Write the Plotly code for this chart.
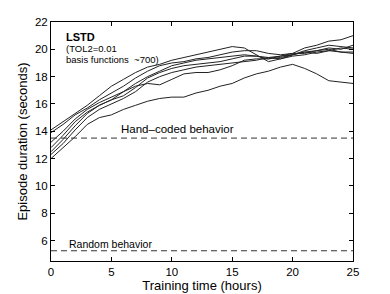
import plotly.graph_objects as go

hours = list(range(0, 26))

run_a = [14.1, 14.7, 15.3, 15.9, 16.6, 17.3, 17.8, 18.3, 18.7, 18.9, 19.2, 19.4, 19.6, 19.8, 20.0, 20.2, 20.1, 19.6, 19.1, 19.3, 19.6, 19.9, 20.1, 20.3, 20.2, 20.1]
run_b = [13.9, 14.5, 15.2, 15.7, 16.3, 16.8, 17.3, 17.9, 18.4, 18.8, 19.0, 19.1, 19.3, 19.4, 19.6, 19.8, 19.9, 19.9, 19.7, 19.6, 19.7, 19.7, 19.9, 20.0, 19.8, 19.7]
run_c = [13.2, 14.0, 14.9, 15.6, 16.1, 16.5, 16.9, 17.5, 18.0, 18.4, 18.8, 19.0, 19.2, 19.3, 19.4, 19.5, 19.6, 19.5, 19.4, 19.5, 19.7, 20.1, 20.3, 20.6, 20.7, 21.0]
run_d = [12.8, 13.7, 14.7, 15.4, 15.9, 16.3, 16.6, 17.2, 17.9, 18.3, 18.6, 18.8, 18.9, 19.0, 19.1, 19.3, 19.5, 19.5, 19.3, 19.5, 19.6, 19.8, 19.9, 20.1, 20.0, 20.3]
run_e = [12.5, 13.4, 14.4, 15.3, 15.9, 16.3, 16.9, 17.3, 17.5, 17.4, 17.8, 18.2, 18.3, 18.3, 18.5, 18.8, 19.2, 19.3, 19.3, 19.4, 19.6, 19.8, 19.7, 19.9, 20.1, 20.0]
run_f = [12.3, 13.1, 14.1, 15.0, 15.6, 16.0, 16.4, 16.9, 17.6, 18.0, 18.3, 18.5, 18.7, 18.8, 18.9, 19.0, 19.1, 19.2, 19.4, 19.3, 19.5, 19.6, 19.8, 19.9, 19.8, 19.8]
run_g = [12.0, 12.8, 13.6, 14.5, 15.0, 15.2, 15.6, 15.9, 16.2, 16.4, 16.5, 16.5, 16.8, 17.0, 17.3, 17.5, 17.9, 18.2, 18.4, 18.7, 18.9, 18.6, 18.2, 17.7, 17.6, 17.5]
runs = [run_a, run_b, run_c, run_d, run_e, run_f, run_g]

hand_coded = 13.5
random_beh = 5.25

x_ticks = [0, 5, 10, 15, 20, 25]
y_ticks = [6, 8, 10, 12, 14, 16, 18, 20, 22]

FONT = "Liberation Sans, Arial, Helvetica, sans-serif"

fig = go.Figure()
for r in runs:
    fig.add_trace(go.Scatter(x=hours, y=r, mode="lines",
                             line=dict(color="#222222", width=1), showlegend=False,
                             hoverinfo="skip"))

for lvl in [hand_coded, random_beh]:
    fig.add_trace(go.Scatter(x=[0, 25], y=[lvl, lvl], mode="lines",
                             line=dict(color="#333333", width=1, dash="6px,4px"),
                             showlegend=False, hoverinfo="skip"))

fig.add_annotation(x=1.1, y=20.92, text="<b>LSTD</b>", showarrow=False,
                   xanchor="left", yanchor="middle", font=dict(size=11, color="black", family=FONT))
fig.add_annotation(x=1.1, y=20.04, text="(TOL2=0.01", showarrow=False,
                   xanchor="left", yanchor="middle", font=dict(size=9.5, color="black", family=FONT))
fig.add_annotation(x=1.1, y=19.22, text="basis functions  ~700)", showarrow=False,
                   xanchor="left", yanchor="middle", font=dict(size=9.5, color="black", family=FONT))
fig.add_annotation(x=5.65, y=14.15, text="Hand–coded behavior", showarrow=False,
                   xanchor="left", yanchor="middle", font=dict(size=11.5, color="black", family=FONT))
fig.add_annotation(x=1.32, y=5.72, text="Random behavior", showarrow=False,
                   xanchor="left", yanchor="middle", font=dict(size=10.5, color="black", family=FONT))

axis_common = dict(showgrid=False, zeroline=False, showline=True, linecolor="black",
                   linewidth=1, mirror="ticks", ticks="inside", ticklen=4, automargin=False,
                   tickcolor="black", tickfont=dict(size=11.5, color="black", family=FONT))

fig.update_xaxes(range=[0, 25], tickvals=x_ticks, ticktext=[str(v) for v in x_ticks],
                 title=dict(text="Training time (hours)", font=dict(size=13, color="black", family=FONT),
                            standoff=2),
                 **axis_common)
fig.update_yaxes(range=[4.5, 22], tickvals=y_ticks, ticktext=[str(v) for v in y_ticks],
                 title=dict(text="Episode duration (seconds)", font=dict(size=13, color="black", family=FONT),
                            standoff=4),
                 **axis_common)

# page body has an 8px default margin: shrink figure so the plot area lands where the reference has it
fig.update_layout(width=382, height=286, margin=dict(l=43, r=37, t=14, b=33),
                  plot_bgcolor="white", paper_bgcolor="white",
                  font=dict(family=FONT, color="black"))

fig.write_html("out.html")
